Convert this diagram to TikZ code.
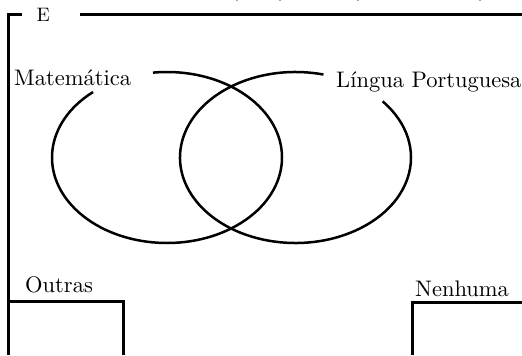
\documentclass[tikz,border=0pt]{standalone}
\usepackage{fontspec}
\setmainfont{lmroman10-regular}[Extension=.otf]
\begin{document}
\begin{tikzpicture}[x=1bp,y=1bp,
  frame/.style={line width=3bp,line join=miter},
  venn/.style={line width=2.5bp},
  lbl/.style={inner sep=0pt,anchor=base west,font=\fontsize{22.5bp}{26bp}\selectfont},
  cut/.style={line width=2bp,draw=black!35}]
\useasboundingbox (0,0) rectangle (522,355);
% frame
\coordinate (ftl) at (8,340);
\coordinate (fbl) at (8,0);
\coordinate (fa) at (22,340);
\coordinate (fb) at (80,340);
\coordinate (fr) at (522,340);
\draw[frame] (fa) -- (ftl) -- (fbl);
\draw[frame] (fb) -- (fr);
\node[lbl,font=\fontsize{19.5bp}{23bp}\selectfont] (E) at (36.5,334) {E};
% cut-off marks at top
\foreach \xx in {237,280,358,480} \draw[cut] (\xx,355) -- (\xx,354);
% ellipses
\coordinate (L) at (167,197.5);
\coordinate (R) at (295.5,197.5);
\draw[venn] ([shift={(130:115bp and 85.5bp)}]L) arc[start angle=130,end angle=457,x radius=115bp,y radius=85.5bp];
\draw[venn] ([shift={(76:115.5bp and 85.5bp)}]R) arc[start angle=76,end angle=401,x radius=115.5bp,y radius=85.5bp];
\node[lbl] (mat) at (14,270) {Matemática};
\node[lbl] (lp) at (336,268) {Língua Portuguesa};
% boxes
\coordinate (o1) at (8,54);
\coordinate (o2) at (123,54);
\coordinate (o3) at (123,0);
\draw[frame] (o1) -- (o2) -- (o3);
\node[lbl] (out) at (25,63) {Outras};
\coordinate (n1) at (412,0);
\coordinate (n2) at (412,53);
\coordinate (n3) at (522,53);
\draw[frame] (n1) -- (n2) -- (n3);
\node[lbl] (nen) at (415,59) {Nenhuma};
\end{tikzpicture}
\end{document}
